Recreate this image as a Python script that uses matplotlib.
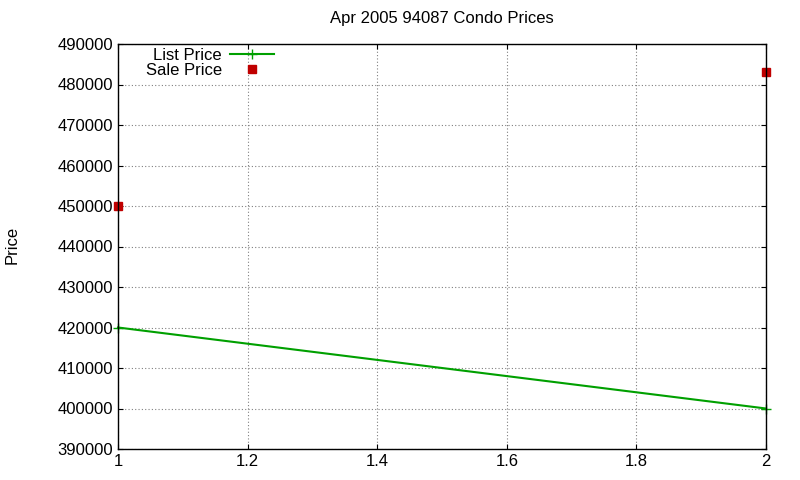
import matplotlib
matplotlib.use("Agg")
import matplotlib.pyplot as plt

x_list = [1, 2]
list_price = [420000, 400000]
x_sale = [1, 2]
sale_price = [450000, 483000]

plt.rcParams['font.family'] = ['Liberation Sans', 'DejaVu Sans']
fig = plt.figure(figsize=(8, 4.8), dpi=100)
ax = fig.add_axes([118/800, 1-449/480, (766-118)/800, (449-44)/480])
ax.plot(x_list, list_price, color='#00a000', lw=1.5, marker='+', ms=7, label='List Price', clip_on=False)
ax.plot(x_sale, sale_price, ls='none', marker='s', ms=6, color='#c00000', label='Sale Price', clip_on=False)
ax.set_xlim(1, 2)
ax.set_ylim(390000, 490000)
ax.set_xticks([1, 1.2, 1.4, 1.6, 1.8, 2])
ax.set_xticklabels(['1', '1.2', '1.4', '1.6', '1.8', '2'])
ax.set_yticks(range(390000, 490001, 10000))
ax.grid(True, ls=(0, (1, 2)), color='#808080', lw=0.8)
ax.tick_params(direction='in', labelsize=12, top=True, right=True)
for s in ax.spines.values():
    s.set_linewidth(1)
ax.set_title('Apr 2005 94087 Condo Prices', fontsize=12, pad=15)
fig.text(12/800, 1-245/480, 'Price', rotation=90, va='center', ha='center', fontsize=12)
leg = ax.legend(loc='upper left', bbox_to_anchor=(0.025, 1.02), frameon=False, markerfirst=False,
                fontsize=12, handlelength=2.6, handletextpad=0.5, labelspacing=0.0, borderpad=0.2)
for t in leg.get_texts():
    t.set_ha('right')
fig.savefig('out.png')
